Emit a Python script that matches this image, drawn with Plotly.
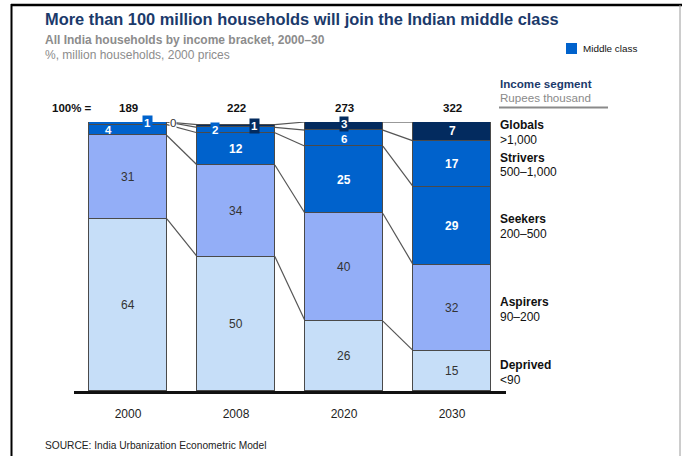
import plotly.graph_objects as go

# Household shares (%) by income segment, stacked bottom to top
years = ["2000", "2008", "2020", "2030"]
totals = [189, 222, 273, 322]  # million households
segments = ["Deprived", "Aspirers", "Seekers", "Strivers", "Globals"]
ranges = ["<90", "90–200", "200–500", "500–1,000", ">1,000"]
deprived = [64, 50, 26, 15]
aspirers = [31, 34, 40, 32]
seekers = [4, 12, 25, 29]
strivers = [1, 2, 6, 17]
globals_ = [0, 1, 3, 7]
series = [deprived, aspirers, seekers, strivers, globals_]

colors = ["#C6DEF8", "#93AEF7", "#0062CC", "#0062CC", "#032B5F"]
text_colors = ["#333333", "#333333", "#FFFFFF", "#FFFFFF", "#FFFFFF"]
BAR_W = 0.72
FONT = "Liberation Sans, Arial, sans-serif"

# page geometry (pixels)
W, H = 682, 456
ML, MR, MT, MB = 74, 176, 122, 65
PW, PH = W - ML - MR, H - MT - MB


def px(x):
    return (x - ML) / PW


def py(y):
    return (H - MB - y) / PH


fig = go.Figure()
xs = list(range(len(years)))
for name, vals, col in zip(segments, series, colors):
    fig.add_trace(go.Bar(
        x=xs, y=vals, name=name, width=BAR_W,
        marker=dict(color=col, line=dict(color="#4A4A4A", width=1.2)),
        showlegend=False, hoverinfo="skip",
    ))

# cumulative boundaries per bar
cum = []
for i in xs:
    c = [0]
    for s in series:
        c.append(c[-1] + s[i])
    cum.append(c)

shapes = []
# connector lines between neighbouring bars
for i in xs[:-1]:
    for k in range(1, len(segments) + 1):
        shapes.append(dict(
            type="line", xref="x", yref="y",
            x0=i + BAR_W / 2, y0=cum[i][k], x1=i + 1 - BAR_W / 2, y1=cum[i + 1][k],
            line=dict(color="#555555", width=1.2), layer="below",
        ))

annotations = []


def note(x, y, text, size, color, xref="paper", yref="paper", xanchor="left", **kw):
    annotations.append(dict(x=x, y=y, xref=xref, yref=yref, text=text, showarrow=False,
                            xanchor=xanchor, yanchor="middle",
                            font=dict(family=FONT, size=size, color=color), **kw))


# thin segments: labels placed off-centre -> (x offset, y nudge, box colour or None)
small = {
    (0, 2): (-0.18, 0.0, None),
    (0, 3): (0.18, 0.0, "#0062CC"),
    (0, 4): (0.42, -0.3, "#FFFFFF"),
    (1, 3): (-0.19, 0.0, "#0062CC"),
    (1, 4): (0.17, 0.0, "#032B5F"),
    (2, 3): (0.0, -0.5, None),
    (2, 4): (0.0, 0.6, "#032B5F"),
}
for i in xs:
    for k, vals in enumerate(series):
        v = vals[i]
        yc = cum[i][k] + v / 2
        tc = text_colors[k]
        opts = {}
        dx = 0.0
        size = 12
        if (i, k) in small:
            dx, dy, box = small[(i, k)]
            yc += dy
            size = 11.5
            if box is not None:
                tc = "#333333" if box == "#FFFFFF" else "#FFFFFF"
                opts = dict(bgcolor=box, borderpad=1 if box != "#FFFFFF" else 0)
        t = f"<b>{v}</b>" if tc == "#FFFFFF" else str(v)
        note(i + dx, yc, t, size, tc, xref="x", yref="y", xanchor="center", **opts)

# totals row
note(px(50), py(108), "<b>100% =</b>", 11.5, "#111111")
for i, t in enumerate(totals):
    note(i, py(108), f"<b>{t}</b>", 11.5, "#111111", xref="x", xanchor="center")

# segment labels on the right
label_y = [(365, 380), (302, 317), (219, 234), (158, 172), (125, 140)]
for name, rng, (y1, y2) in zip(segments, ranges, label_y):
    note(px(498), py(y1), f"<b>{name}</b>", 12, "#111111")
    note(px(498), py(y2), rng, 12, "#111111")

note(px(498), py(83), "<b>Income segment</b>", 11.6, "#1B3A6B")
note(px(498), py(98), "Rupees thousand", 11.6, "#8A8A8A")
note(px(43), py(19), "<b>More than 100 million households will join the Indian middle class</b>",
     16.4, "#1B3A6B")
note(px(43), py(40), "<b>All India households by income bracket, 2000–30</b>", 12, "#8C8C8C")
note(px(43), py(55), "%, million households, 2000 prices", 12, "#8C8C8C")
note(px(581), py(48), "Middle class", 9.9, "#111111")
note(px(43), py(445), "SOURCE: India Urbanization Econometric Model", 10.2, "#222222")

# legend swatch, underline and page frame
shapes += [
    dict(type="rect", xref="paper", yref="paper", x0=px(566), x1=px(577), y0=py(43), y1=py(54),
         fillcolor="#0062CC", line=dict(width=0)),
    dict(type="line", xref="paper", yref="paper", x0=px(499), x1=px(608), y0=py(107.5), y1=py(107.5),
         line=dict(color="#8A8A8A", width=2)),
    dict(type="line", xref="paper", yref="paper", x0=px(11), x1=px(682), y0=py(5), y1=py(5),
         line=dict(color="#000000", width=2.5)),
    dict(type="line", xref="paper", yref="paper", x0=px(11.5), x1=px(11.5), y0=py(4), y1=py(456),
         line=dict(color="#000000", width=2)),
    dict(type="line", xref="paper", yref="paper", x0=px(680), x1=px(680), y0=py(5), y1=py(456),
         line=dict(color="#9A9A9A", width=1)),
]

fig.update_layout(
    width=W, height=H,
    margin=dict(l=ML, r=MR, t=MT, b=MB),
    barmode="stack", bargap=0,
    paper_bgcolor="white", plot_bgcolor="white",
    font=dict(family=FONT),
    shapes=shapes, annotations=annotations,
    xaxis=dict(range=[-0.5, 3.5], tickmode="array", tickvals=xs, ticktext=years,
               showgrid=False, zeroline=False, showline=True, linecolor="#111111", linewidth=2.5,
               ticks="", ticklabelstandoff=10,
               tickfont=dict(family=FONT, size=12, color="#222222"), fixedrange=True),
    yaxis=dict(range=[0, 100], visible=False, fixedrange=True),
)

fig.write_html("out.html")
